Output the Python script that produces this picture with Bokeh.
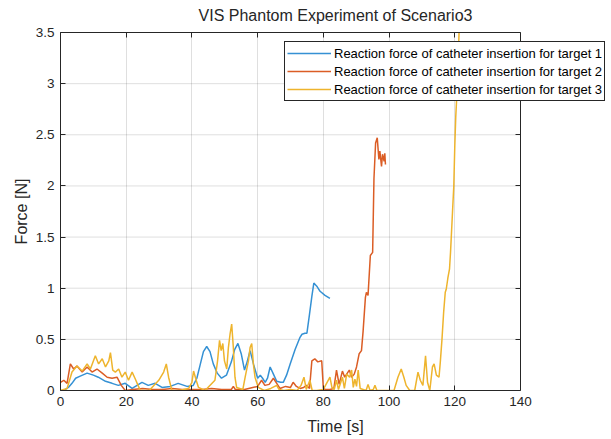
from bokeh.plotting import figure
from bokeh.models import Range1d, LinearAxis, FixedTicker, Legend, LegendItem
from bokeh.embed import file_html
from bokeh.resources import INLINE

# ---------------- data ----------------
t1 = [0, 1, 2.4, 3.5, 4.6, 6, 8.1, 10, 11.5, 13.7, 15.7, 17.6, 19.7, 21.8, 23.3, 24.8,
      26.7, 28.8, 30.9, 33.4, 35.8, 38.5, 40.4, 41.5, 42.5, 43.5, 44.5, 45.5, 46.5, 47.7,
      49, 50.5, 52, 53, 54, 55, 56, 56.8, 57.7, 58.8, 60, 60.8, 61.5, 62.3, 63, 63.8,
      64.8, 65.8, 67, 67.8, 68.8, 69.9, 71.4, 72.9, 73.5, 74.4, 75, 75.8, 76.5, 77.1,
      78, 79, 80.5, 82]
f1 = [0, 0, 0.03, 0.07, 0.12, 0.14, 0.17, 0.15, 0.13, 0.09, 0.07, 0.05, 0.07, 0.02, 0.05, 0.08,
      0.05, 0.07, 0.03, 0.04, 0.07, 0.04, 0.05, 0.12, 0.25, 0.38, 0.43, 0.38, 0.26, 0.17,
      0.12, 0.15, 0.28, 0.40, 0.46, 0.36, 0.2, 0.28, 0.39, 0.25, 0.12, 0.15, 0.12, 0.08, 0.12, 0.23,
      0.16, 0.09, 0.08, 0.08, 0.15, 0.26, 0.40, 0.52, 0.55, 0.56, 0.56, 0.75, 0.92, 1.05,
      1.02, 0.97, 0.93, 0.9]

t2 = [0, 1, 2, 3, 4, 5, 6.6, 8.1, 9.6, 11.1, 12.7, 14.2, 15.7, 17.2, 18.5, 19.7, 22, 25, 28,
      31, 34, 37, 40, 43, 46, 49, 52, 52.6, 53.2, 56, 58.5, 60, 61.2, 62.2, 63.5, 64.8, 65.8,
      66.8, 68.5, 70, 70.8, 71.8, 72.9, 74, 74.9, 75.8, 76.5, 77.4, 78.3, 79.5, 80, 80.6, 82,
      83.2, 84, 84.8, 85.8, 86.5, 87.9, 88.6, 89.4, 90.1, 90.9, 91.6, 92.1, 92.8, 93.1, 93.6,
      94.3, 95, 95.4, 95.9, 96.4, 96.9, 97.2, 97.7, 98, 98.5, 98.7, 98.9]
f2 = [0.08, 0.1, 0.07, 0.26, 0.21, 0.24, 0.18, 0.23, 0.18, 0.21, 0.17, 0.13, 0.12, 0.13, 0.05, 0.0,
      0.01, 0.02, 0.01, 0.01, 0.02, 0.01, 0.01, 0.01, 0.02, 0.01, 0.01, 0.04, 0.01, 0.01, 0.03,
      0.04, 0.1, 0.05, 0.06, 0.12, 0.07, 0.02, 0.04, 0.03, 0.08, 0.04, 0.02, 0.03, 0.05, 0.02,
      0.29, 0.31, 0.28, 0.29, 0.02, 0.01, 0.01, 0.02, 0.2, 0.06, 0.19, 0.13, 0.2, 0.13, 0.16,
      0.23, 0.36, 0.39, 0.58, 0.91, 0.96, 0.93, 1.32, 1.35, 2.07, 2.42, 2.47, 2.26, 2.34, 2.19,
      2.31, 2.24, 2.32, 2.21]

t3 = [0, 2, 3.5, 5, 6.6, 8.1, 9.1, 10.6, 11.6, 12.7, 13.7, 14.7, 15.2, 15.9, 16.7, 17.7, 18.7,
      19.7, 20.7, 21.8, 22.8, 23.6, 24.3, 27, 29.9, 31.4, 32.2, 32.9, 33.9, 36, 39, 40, 40.5,
      41.3, 42, 44, 47, 47.8, 48.4, 48.9, 49.4, 49.9, 50.6, 51.1, 51.6, 52.1, 52.6, 53.1, 53.6,
      55.5, 56.2, 57.2, 57.7, 58.2, 58.7, 59.2, 60.2, 62, 64, 65.8, 66.5, 68, 70, 72, 73.2, 74.1,
      74.8, 75.9, 76.6, 78, 80, 82, 82.6, 83.3, 84, 84.6, 85.8, 86.4, 87.1, 88, 88.6, 89.1, 89.6,
      90.1, 90.6, 91.2, 93, 93.6, 94.2, 95.2, 95.7, 96.3, 99, 101.5, 102.7, 103.7, 104.5, 105.2,
      106.3, 107.8, 108.8, 109.5, 110.3, 111.1, 111.7, 112.4, 113.2, 113.7, 114.4, 115.2, 115.6,
      116.1, 116.6, 117.1, 117.4, 117.9, 118.4, 118.7, 118.9, 119.3, 119.7, 120, 120.3, 120.6,
      121, 121.4]
f3 = [0, 0.02, 0.18, 0.24, 0.19, 0.26, 0.21, 0.34, 0.26, 0.31, 0.23, 0.29, 0.37, 0.2, 0.18, 0.21,
      0.13, 0.18, 0.1, 0.18, 0.11, 0.05, 0, 0, 0.1, 0.18, 0.26, 0.13, 0, 0, 0.02, 0.08, 0.19, 0.1,
      0.03, 0, 0.1, 0.29, 0.49, 0.39, 0.46, 0.29, 0.21, 0.42, 0.55, 0.65, 0.42, 0.13, 0.03, 0.01,
      0.13, 0.29, 0.42, 0.46, 0.26, 0.13, 0.03, 0, 0.02, 0.05, 0.01, 0, 0.01, 0, 0.05, 0.13, 0.01,
      0.1, 0, 0, 0.01, 0.13, 0.03, 0.01, 0.1, 0.01, 0.13, 0.02, 0.16, 0.13, 0.2, 0.03, 0.11, 0.04,
      0.2, 0.02, 0, 0.06, 0, 0.01, 0.05, 0, 0, 0, 0.13, 0.21, 0.13, 0.05, 0, 0, 0.18, 0.1, 0.05,
      0.34, 0.08, 0, 0.23, 0.26, 0.15, 0.13, 0.28, 0.5, 0.76, 0.96, 0.99, 1.1, 1.19, 1.35, 1.48,
      1.74, 2.0, 2.39, 2.68, 2.87, 3.2, 3.6]

series_labels = [
    "Reaction force of catheter insertion for target 1",
    "Reaction force of catheter insertion for target 2",
    "Reaction force of catheter insertion for target 3",
]
x_min, x_max = 0, 140
y_min, y_max = 0, 3.5
x_ticks = [0, 20, 40, 60, 80, 100, 120, 140]
y_ticks = [0, 0.5, 1, 1.5, 2, 2.5, 3, 3.5]
y_tick_labels = ["0", "0.5", "1", "1.5", "2", "2.5", "3", "3.5"]
title_text = "VIS Phantom Experiment of Scenario3"
x_label = "Time [s]"
y_label = "Force [N]"

# ---------------- style / layout ----------------
FONT = "Liberation Sans"
INK = "#262626"
colors = ["#3591d4", "#db5d25", "#eeb42d"]

AXES_W = 460            # pixel width of the drawn axes box
FRAME_W = 550           # frame extends right so the legend can overhang the axes
FRAME_H = 358
x_view_end = x_max * FRAME_W / AXES_W

p = figure(frame_width=FRAME_W, frame_height=FRAME_H, output_backend="svg", toolbar_location=None,
           x_range=Range1d(x_min, x_view_end), y_range=Range1d(y_min, y_max),
           min_border_left=60, min_border_right=1, min_border_top=32, min_border_bottom=49)
p.outline_line_color = None
p.background_fill_color = "white"

def style_axis(ax, ticks):
    ax.ticker = FixedTicker(ticks=ticks)
    ax.major_tick_in = 5
    ax.major_tick_out = 0
    ax.minor_tick_line_color = None
    ax.axis_line_color = INK
    ax.major_tick_line_color = INK
    ax.major_label_text_font = FONT
    ax.major_label_text_font_size = "13.5px"
    ax.major_label_text_color = INK
    ax.axis_label_text_font = FONT
    ax.axis_label_text_font_size = "16px"
    ax.axis_label_text_font_style = "normal"
    ax.axis_label_text_color = INK

xa = p.xaxis[0]
ya = p.yaxis[0]
style_axis(xa, x_ticks)
style_axis(ya, y_ticks)
xa.bounds = (x_min, x_max)
ya.major_label_overrides = {v: s for v, s in zip(y_ticks, y_tick_labels)}
xa.axis_label = x_label
ya.axis_label = y_label
xa.major_label_standoff = 6
xa.axis_label_standoff = 9
ya.major_label_standoff = 6
ya.axis_label_standoff = 3

# top axis (ticks only) carrying the title as its label, centred over the axes box
top = LinearAxis()
style_axis(top, x_ticks)
top.bounds = (x_min, x_max)
top.major_label_text_font_size = "0px"
top.major_label_text_alpha = 0
top.major_label_standoff = 0
top.axis_label = title_text
top.axis_label_standoff = 9
p.add_layout(top, "above")

# right spine with inward ticks at x = x_max
right = LinearAxis(fixed_location=x_max)
style_axis(right, y_ticks)
right.major_label_text_font_size = "0px"
right.major_label_text_alpha = 0
right.major_label_standoff = 0
p.add_layout(right, "right")

# grid
p.xgrid.ticker = FixedTicker(ticks=x_ticks)
p.xgrid.grid_line_color = INK
p.xgrid.grid_line_alpha = 0.15
p.ygrid.grid_line_color = None
p.segment(x0=[x_min] * len(y_ticks), x1=[x_max] * len(y_ticks), y0=y_ticks, y1=y_ticks,
          line_color=INK, line_alpha=0.15, line_width=1)

renderers = []
for t, f, c in ((t1, f1, colors[0]), (t2, f2, colors[1]), (t3, f3, colors[2])):
    renderers.append(p.line(t, f, line_color=c, line_width=1.5))

legend = Legend(items=[LegendItem(label=l, renderers=[r]) for l, r in zip(series_labels, renderers)],
                location=(224, 289), orientation="vertical",
                label_text_font=FONT, label_text_font_size="13px", label_text_color="#000000",
                glyph_width=44, glyph_height=18, label_height=18, label_standoff=3,
                spacing=0, padding=2, margin=0,
                border_line_color=INK, border_line_width=1, border_line_alpha=1,
                background_fill_color="white", background_fill_alpha=1)
p.add_layout(legend, "center")

open("out.html", "w").write(file_html(p, INLINE))
